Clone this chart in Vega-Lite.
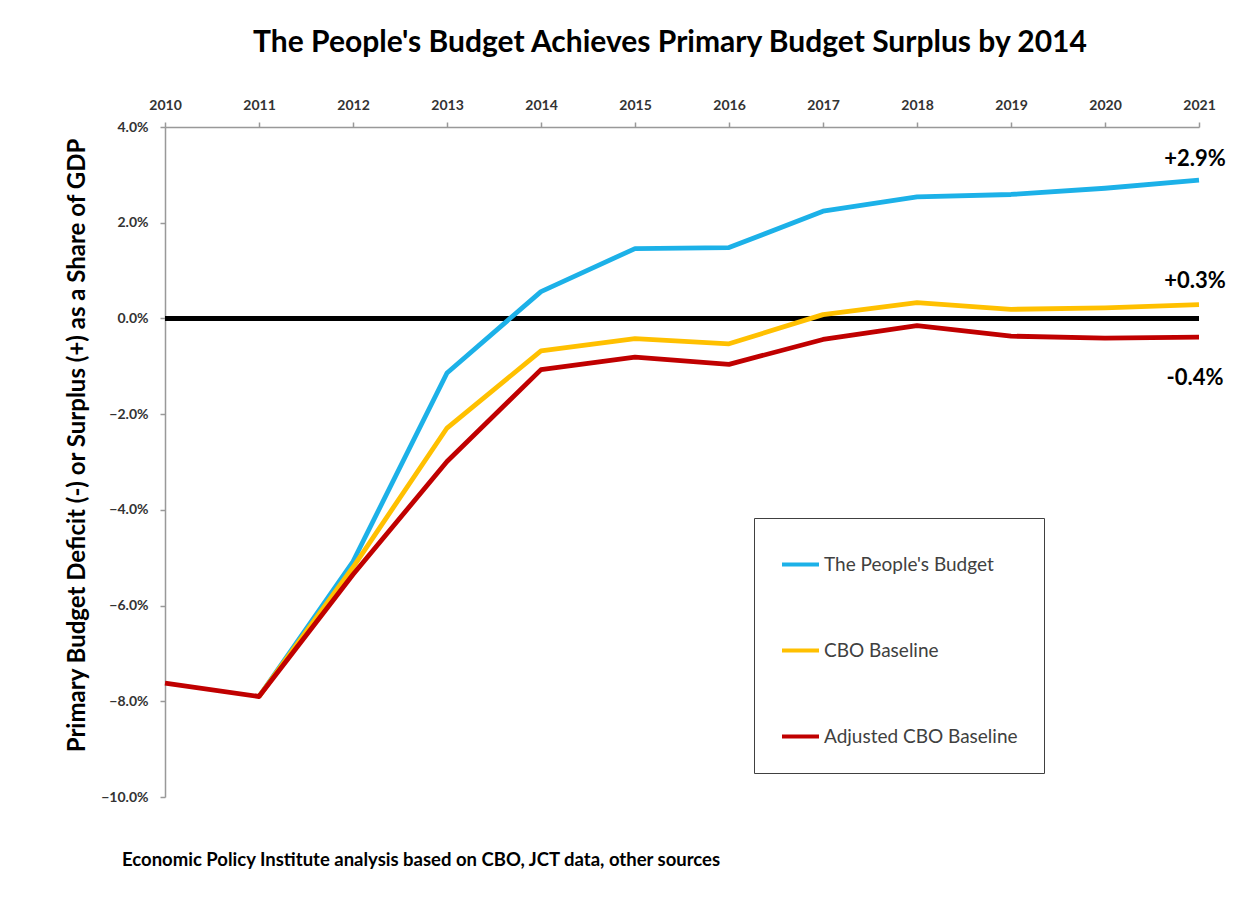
{
  "$schema": "https://vega.github.io/schema/vega-lite/v6.json",
  "width": 1034,
  "height": 670,
  "autosize": "none",
  "padding": {"left": 165, "top": 127, "right": 54, "bottom": 108},
  "background": "white",
  "config": {"view": {"stroke": null}, "font": "Lato"},
  "title": {
    "text": "The People's Budget Achieves Primary Budget Surplus by 2014",
    "font": "Lato",
    "fontSize": 30,
    "fontWeight": "bold",
    "color": "#000000",
    "anchor": "middle",
    "offset": 40,
    "dx": -12
  },
  "datasets": {
    "series": [
      {"year": 2011, "series": "The People's Budget", "value": -7.9},
      {"year": 2012, "series": "The People's Budget", "value": -5.08},
      {"year": 2013, "series": "The People's Budget", "value": -1.14},
      {"year": 2014, "series": "The People's Budget", "value": 0.56},
      {"year": 2015, "series": "The People's Budget", "value": 1.46},
      {"year": 2016, "series": "The People's Budget", "value": 1.48},
      {"year": 2017, "series": "The People's Budget", "value": 2.24},
      {"year": 2018, "series": "The People's Budget", "value": 2.54},
      {"year": 2019, "series": "The People's Budget", "value": 2.59},
      {"year": 2020, "series": "The People's Budget", "value": 2.72},
      {"year": 2021, "series": "The People's Budget", "value": 2.89},
      {"year": 2011, "series": "CBO Baseline", "value": -7.9},
      {"year": 2012, "series": "CBO Baseline", "value": -5.2},
      {"year": 2013, "series": "CBO Baseline", "value": -2.29},
      {"year": 2014, "series": "CBO Baseline", "value": -0.68},
      {"year": 2015, "series": "CBO Baseline", "value": -0.42},
      {"year": 2016, "series": "CBO Baseline", "value": -0.53},
      {"year": 2017, "series": "CBO Baseline", "value": 0.08},
      {"year": 2018, "series": "CBO Baseline", "value": 0.33},
      {"year": 2019, "series": "CBO Baseline", "value": 0.19},
      {"year": 2020, "series": "CBO Baseline", "value": 0.22},
      {"year": 2021, "series": "CBO Baseline", "value": 0.29},
      {"year": 2010, "series": "Adjusted CBO Baseline", "value": -7.62},
      {"year": 2011, "series": "Adjusted CBO Baseline", "value": -7.9},
      {"year": 2012, "series": "Adjusted CBO Baseline", "value": -5.35},
      {"year": 2013, "series": "Adjusted CBO Baseline", "value": -2.99},
      {"year": 2014, "series": "Adjusted CBO Baseline", "value": -1.07},
      {"year": 2015, "series": "Adjusted CBO Baseline", "value": -0.81},
      {"year": 2016, "series": "Adjusted CBO Baseline", "value": -0.96},
      {"year": 2017, "series": "Adjusted CBO Baseline", "value": -0.44},
      {"year": 2018, "series": "Adjusted CBO Baseline", "value": -0.15},
      {"year": 2019, "series": "Adjusted CBO Baseline", "value": -0.37},
      {"year": 2020, "series": "Adjusted CBO Baseline", "value": -0.41},
      {"year": 2021, "series": "Adjusted CBO Baseline", "value": -0.39}
    ],
    "endlabels": [
      {"year": 2021, "value": 3.33, "label": "+2.9%"},
      {"year": 2021, "value": 0.78, "label": "+0.3%"},
      {"year": 2021, "value": -1.25, "label": "-0.4%"}
    ],
    "source": [
      {"year": 2010, "value": -11.31, "label": "Economic Policy Institute analysis based on CBO, JCT data, other sources"}
    ]
  },
  "layer": [
    {
      "data": {"name": "series"},
      "mark": {"type": "rule", "color": "#000000", "strokeWidth": 3.5},
      "encoding": {"y": {"datum": 0, "type": "quantitative"}}
    },
    {
      "data": {"name": "series"},
      "mark": {"type": "line", "strokeWidth": 4.8, "strokeJoin": "round"},
      "encoding": {
        "x": {
          "field": "year",
          "type": "quantitative",
          "scale": {"domain": [2010, 2021], "nice": false, "zero": false},
          "axis": {
            "orient": "top",
            "values": [2010, 2011, 2012, 2013, 2014, 2015, 2016, 2017, 2018, 2019, 2020, 2021],
            "format": "d",
            "title": null,
            "grid": false,
            "labelFont": "Lato",
            "labelFontWeight": "bold",
            "labelFontSize": 14,
            "labelColor": "#333333",
            "labelFlush": false,
            "labelOverlap": false,
            "labelPadding": 10,
            "domainColor": "#999999",
            "domainWidth": 1.5,
            "tickColor": "#999999",
            "tickWidth": 1.5,
            "tickSize": 5
          }
        },
        "y": {
          "field": "value",
          "type": "quantitative",
          "scale": {"domain": [-10, 4], "nice": false, "zero": false},
          "axis": {
            "values": [-10, -8, -6, -4, -2, 0, 2, 4],
            "labelExpr": "format(datum.value, '.1f') + '%'",
            "title": "Primary Budget Deficit (-) or Surplus (+) as a Share of GDP",
            "titleFont": "Lato",
            "titleFontSize": 24,
            "titleFontWeight": "bold",
            "titleColor": "#000000",
            "titlePadding": 11,
            "titleY": 318,
            "grid": false,
            "labelFont": "Lato",
            "labelFontWeight": "bold",
            "labelFontSize": 14,
            "labelColor": "#333333",
            "labelFlush": false,
            "labelOverlap": false,
            "labelPadding": 12,
            "domainColor": "#999999",
            "domainWidth": 1.5,
            "tickColor": "#999999",
            "tickWidth": 1.5,
            "tickSize": 5
          }
        },
        "color": {
          "field": "series",
          "type": "nominal",
          "scale": {
            "domain": ["The People's Budget", "CBO Baseline", "Adjusted CBO Baseline"],
            "range": ["#1CB1E8", "#FFC000", "#C00000"]
          },
          "legend": {
            "orient": "none",
            "legendX": 589,
            "legendY": 391,
            "title": null,
            "symbolType": "stroke",
            "symbolSize": 1369,
            "symbolStrokeWidth": 4,
            "labelFont": "Lato",
            "labelFontSize": 19,
            "labelColor": "#404040",
            "labelOffset": 3,
            "rowPadding": 55,
            "padding": 26,
            "strokeColor": "#404040",
            "fillColor": "#ffffff",
            "labelLimit": 400
          }
        }
      }
    },
    {
      "data": {"name": "endlabels"},
      "mark": {"type": "text", "font": "Lato", "fontSize": 22, "fontWeight": "bold", "color": "#000000", "align": "center", "baseline": "middle", "dx": -4},
      "encoding": {
        "x": {"field": "year", "type": "quantitative"},
        "y": {"field": "value", "type": "quantitative"},
        "text": {"field": "label"}
      }
    },
    {
      "data": {"name": "source"},
      "mark": {"type": "text", "font": "Lato", "fontSize": 18.5, "fontWeight": "bold", "color": "#000000", "align": "left", "baseline": "middle", "dx": -43},
      "encoding": {
        "x": {"field": "year", "type": "quantitative"},
        "y": {"field": "value", "type": "quantitative"},
        "text": {"field": "label"}
      }
    }
  ]
}
